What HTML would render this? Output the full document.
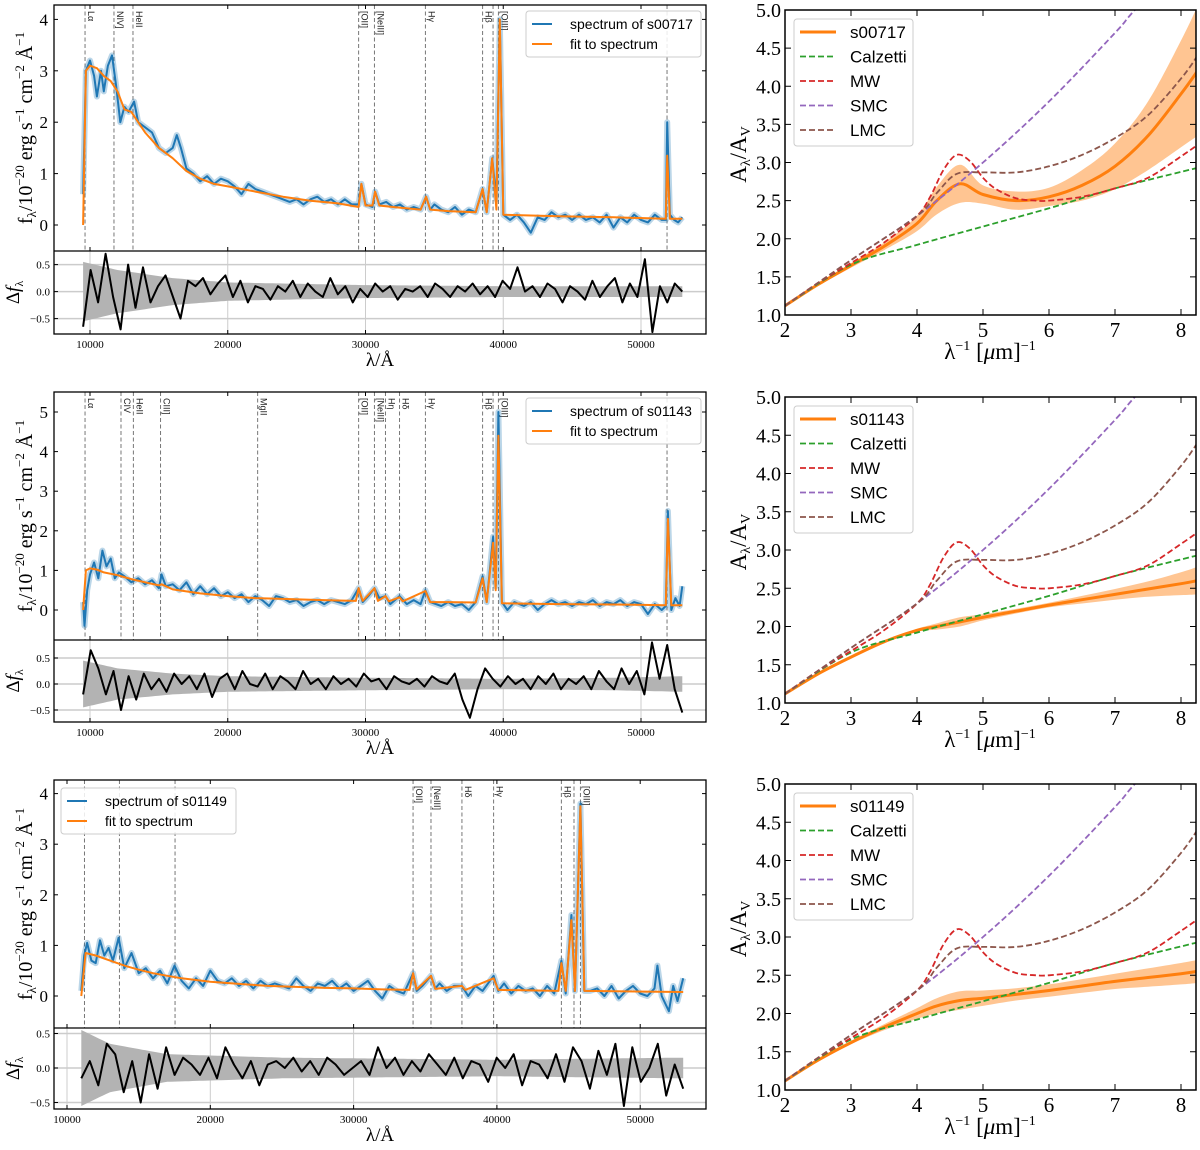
<!DOCTYPE html>
<html><head><meta charset="utf-8">
<style>
body{margin:0;background:#fff;width:1200px;height:1150px;overflow:hidden}
svg{display:block}
text{font-family:"Liberation Serif","DejaVu Serif",serif}
.sans{font-family:"Liberation Sans","DejaVu Sans",sans-serif}
</style></head>
<body>
<svg id="fig" width="1200" height="1150" viewBox="0 0 1200 1150" xmlns="http://www.w3.org/2000/svg"></svg>
<script>
// ---------- Panel 1 data (s00717) ----------
const spec1Lam=[9500,9700,10000,10300,10500,10800,11000,11300,11600,11900,12200,12500,12800,13200,13500,14000,14500,15000,15500,16000,16300,16600,17000,17500,18000,18500,19000,19500,20000,20500,21000,21500,22000,22500,23000,23500,24000,24500,25000,25500,26000,26500,27000,27500,28000,28500,29000,29500,29700,30000,30500,30700,31000,31500,32000,32500,33000,33500,34000,34400,34700,35000,35500,36000,36500,37000,37500,38000,38500,38800,39200,39500,39750,40000,40500,41000,41500,42000,42500,43000,43500,44000,44500,45000,45500,46000,46500,47000,47500,48000,48500,49000,49500,50000,50500,51000,51500,51800,51900,52100,52400,52700,53000];
const spec1Flux=[0.6,3.0,3.2,2.9,2.5,3.0,2.6,3.1,3.3,2.7,2.0,2.3,2.2,2.4,2.0,1.9,1.8,1.5,1.4,1.5,1.75,1.5,1.1,1.0,0.85,0.95,0.8,0.9,0.85,0.75,0.6,0.8,0.7,0.65,0.6,0.55,0.5,0.45,0.5,0.4,0.5,0.55,0.45,0.5,0.4,0.5,0.4,0.4,0.8,0.4,0.35,0.65,0.4,0.45,0.35,0.4,0.3,0.35,0.3,0.55,0.3,0.4,0.3,0.25,0.35,0.2,0.3,0.25,0.7,0.25,1.3,0.5,4.0,0.2,0.1,0.2,0.05,-0.15,0.15,0.1,0.25,0.15,0.2,0.1,0.2,0.1,0.15,0.05,0.2,-0.05,0.15,0.05,0.2,0.1,0.05,0.2,0.1,0.1,2.0,0.2,0.1,0.05,0.15];
const fit1Lam=[9500,9700,10000,10500,11000,11500,12000,12500,13000,13500,14000,15000,16000,17000,18000,19000,20000,22000,24000,26000,28000,29500,29700,30000,30500,30700,31000,32000,34000,34400,34700,36000,38000,38500,38800,39200,39500,39750,40000,44000,48000,51800,51900,52100,53000];
const fit1Flux=[0,3.0,3.1,3.05,2.9,2.8,2.6,2.25,2.2,2.0,1.8,1.5,1.3,1.05,0.9,0.8,0.75,0.65,0.55,0.47,0.42,0.35,0.8,0.38,0.38,0.65,0.38,0.35,0.3,0.55,0.3,0.27,0.25,0.7,0.25,1.3,0.3,4.0,0.2,0.17,0.15,0.12,1.35,0.12,0.12];
const res1=[-0.65,0.4,-0.2,0.7,-0.1,-0.7,0.5,-0.3,0.45,-0.2,0.1,0.3,-0.1,-0.5,0.2,0.1,0.25,-0.05,0.15,0.3,-0.1,0.2,-0.2,0.1,0.05,-0.15,0.1,0.0,0.2,-0.1,0.15,0.0,-0.1,0.25,-0.05,0.1,-0.2,0.05,-0.1,0.15,0.0,0.1,-0.15,0.05,0.0,0.1,-0.1,0.15,0.05,-0.1,0.1,0.0,0.15,-0.05,0.1,-0.1,0.2,0.05,0.45,0.0,0.1,-0.1,0.15,0.05,-0.2,0.1,0.0,-0.15,0.2,-0.1,0.1,0.25,-0.2,0.15,-0.1,0.6,-0.75,0.1,-0.2,0.15,0.0];
const band1Lam=[9500,12000,16000,20000,30000,40000,53000];
const band1Sig=[0.55,0.4,0.25,0.17,0.12,0.1,0.1];
const lines1Lam=[9640,11740,13120,29500,30650,34350,38500,39260,39650,51890];
const lines1Lab=["Lα","NIV]","HeII","[OII]","[NeIII]","Hγ","Hβ","","[OIII]",""];

// ---------- Panel 2 data (s01143) ----------
const spec2Lam=[9500,9600,9800,10000,10300,10600,10900,11200,11500,11800,12100,12500,13000,13500,14000,14500,15000,15200,15500,16000,16500,17000,17500,18000,18500,19000,19500,20000,20500,21000,21500,22000,22500,23000,23500,24000,24500,25000,25500,26000,26500,27000,27500,28000,28500,29000,29500,29800,30200,30650,31000,31450,31800,32470,33000,33500,34000,34350,34700,35500,36000,36500,37000,37500,38000,38500,38800,39260,39450,39650,39900,40300,40800,41500,42000,42500,43000,43500,44000,44500,45000,45500,46000,46500,47000,47500,48000,48500,49000,49500,50000,50500,51000,51500,51800,51950,52200,52500,52800,53000];
const spec2Flux=[0.2,-0.4,0.5,0.9,1.2,0.8,1.5,1.1,1.3,0.8,0.95,0.85,0.7,0.8,0.65,0.75,0.55,0.9,0.6,0.65,0.5,0.7,0.4,0.6,0.4,0.55,0.35,0.45,0.3,0.4,0.2,0.35,0.25,0.1,0.35,0.3,0.2,0.25,0.1,0.2,0.25,0.15,0.25,0.2,0.15,0.25,0.55,0.2,0.35,0.55,0.3,0.35,0.15,0.35,0.15,0.25,0.15,0.5,0.2,0.1,0.2,0.1,0.15,0.0,0.2,0.85,0.2,1.85,0.6,5.0,0.2,0.0,0.2,0.1,0.2,0.0,0.15,0.25,0.15,0.2,0.1,0.2,0.15,0.25,0.1,0.2,0.15,0.25,0.1,0.2,0.15,-0.1,0.15,0.0,0.1,2.5,0.0,0.3,0.1,0.6];
const fit2Lam=[9500,9700,10000,10500,11000,12000,13000,14000,15000,15200,16000,17000,18000,20000,22000,24000,26000,28000,29300,29500,29800,30650,30900,31450,31700,32470,32700,34350,34700,36000,38000,38500,38800,39260,39450,39650,39900,44000,48000,51800,51950,52200,53000];
const fit2Flux=[0,1.0,1.05,1.02,0.95,0.88,0.78,0.7,0.62,0.65,0.52,0.47,0.42,0.35,0.3,0.28,0.26,0.24,0.23,0.55,0.23,0.55,0.23,0.35,0.22,0.32,0.22,0.48,0.2,0.2,0.19,0.8,0.2,1.7,0.5,4.4,0.17,0.15,0.14,0.12,2.3,0.12,0.12];
const res2=[-0.2,0.65,0.3,-0.2,0.25,-0.5,0.15,-0.3,0.2,-0.1,0.1,-0.15,0.2,0.0,0.15,-0.1,0.2,-0.25,0.1,0.2,-0.1,0.25,0.0,-0.05,0.2,-0.1,0.15,0.05,-0.1,0.25,0.0,0.1,-0.1,0.15,0.0,0.1,-0.05,0.2,0.05,0.1,-0.1,0.15,0.05,0.0,0.1,-0.05,0.15,0.05,0.0,0.2,-0.3,-0.65,-0.1,0.3,0.1,-0.05,0.15,0.0,0.1,-0.1,0.15,0.0,0.2,-0.1,0.1,0.0,0.15,-0.1,0.25,0.05,-0.1,0.3,0.0,0.25,-0.2,0.8,0.1,0.75,-0.1,-0.55];
const band2Lam=[9500,12000,16000,20000,30000,40000,48000,53000];
const band2Sig=[0.45,0.3,0.2,0.15,0.12,0.1,0.12,0.15];
const lines2Lam=[9640,12250,13150,15120,22170,29500,30650,31450,32470,34350,38500,39260,39650,51890];
const lines2Lab=["Lα","CIV","HeII","CIII]","MgII","[OII]","[NeIII]","Hη","Hδ","Hγ","Hβ","","[OIII]",""];

// ---------- Panel 3 data (s01149) ----------
const spec3Lam=[11000,11200,11400,11700,12000,12300,12600,12900,13200,13600,14000,14500,15000,15500,16000,16500,17000,17500,18000,18500,19000,19500,20000,20500,21000,21500,22000,22500,23000,23500,24000,24500,25000,25500,26000,26500,27000,27500,28000,28500,29000,29500,30000,30500,31000,31500,32000,32500,33000,33500,34150,34400,34800,35400,35700,36000,36500,37000,37560,38000,38500,39000,39770,40100,40500,41000,41500,42000,42500,43000,43500,44000,44500,44800,45200,45450,45830,46100,46500,47000,47500,48000,48500,49000,49500,50000,50500,51000,51200,51500,52000,52300,52600,53000];
const spec3Flux=[0.1,0.8,1.05,0.7,0.65,1.1,0.8,0.95,0.7,1.15,0.55,0.85,0.45,0.55,0.35,0.5,0.25,0.6,0.3,0.15,0.35,0.2,0.5,0.3,0.25,0.35,0.2,0.3,0.15,0.3,0.2,0.25,0.2,0.15,0.35,0.2,0.1,0.25,0.2,0.3,0.15,0.25,0.1,0.2,0.3,0.1,-0.05,0.2,0.1,0.05,0.45,0.1,0.2,0.4,0.15,0.25,0.1,0.2,0.2,0.0,0.2,0.1,0.4,0.1,0.25,0.05,0.2,0.1,0.15,0.0,0.2,0.05,0.7,0.05,1.6,0.1,3.8,0.1,0.1,0.15,0.0,0.2,-0.05,0.1,0.2,0.05,0.0,0.15,0.6,0.0,-0.3,0.2,-0.1,0.35];
const fit3Lam=[11000,11300,12000,13000,14000,15000,16000,17000,18000,20000,22000,24000,26000,28000,30000,32000,33900,34150,34400,35400,35700,37560,37800,39770,40100,44300,44500,44800,45200,45450,45830,46100,53000];
const fit3Flux=[0,0.85,0.8,0.7,0.6,0.52,0.45,0.4,0.35,0.28,0.24,0.2,0.18,0.16,0.15,0.13,0.12,0.45,0.13,0.4,0.14,0.2,0.12,0.35,0.12,0.1,0.65,0.1,1.5,0.1,3.75,0.1,0.08];
const res3=[-0.15,0.1,-0.25,0.35,0.2,-0.35,0.1,-0.5,0.2,-0.3,0.3,-0.1,0.15,0.05,-0.1,0.15,-0.15,0.3,0.05,-0.15,0.1,-0.25,0.05,0.1,0.0,0.15,-0.05,0.1,-0.1,0.15,0.05,-0.1,0.0,0.1,-0.1,0.3,0.0,0.15,-0.1,0.1,-0.05,0.2,0.05,-0.1,0.15,-0.15,0.1,0.05,-0.2,0.15,0.0,0.2,-0.25,0.1,0.05,-0.15,0.2,-0.2,0.3,0.1,-0.3,0.25,-0.1,0.35,-0.55,0.3,-0.2,0.0,0.35,-0.4,0.05,-0.3];
const band3Lam=[11000,13000,17000,25000,40000,53000];
const band3Sig=[0.55,0.35,0.2,0.15,0.12,0.15];
const lines3Lam=[11220,13660,17540,34150,35400,37560,39770,44500,45380,45830];
const lines3Lab=["","","","[OII]","[NeIII]","Hδ","Hγ","Hβ","","[OIII]"];

// ---------- Extinction curves ----------
const calzX=[2,3,4,5,6,7,8.25];
const calzY=[1.12,1.66,1.92,2.16,2.40,2.66,2.93];
const mwX=[2,2.5,3,3.5,4,4.2,4.4,4.6,4.8,5.0,5.2,5.5,5.8,6,6.5,7,7.5,8,8.25];
const mwY=[1.12,1.42,1.68,1.95,2.3,2.55,2.9,3.1,3.02,2.8,2.65,2.53,2.5,2.5,2.55,2.66,2.8,3.08,3.23];
const smcX=[2,3,4,5,6,7,7.3,8.25];
const smcY=[1.12,1.72,2.3,3.0,3.8,4.7,5.0,5.9];
const lmcX=[2,3,4,4.3,4.6,5,5.5,6,6.5,7,7.5,8,8.25];
const lmcY=[1.12,1.72,2.3,2.6,2.85,2.87,2.87,2.95,3.1,3.32,3.62,4.1,4.4];
const fitExtX=[2,2.5,3,3.5,4,4.3,4.65,5,5.5,6,6.5,7,7.5,8,8.25];
const fitExt1=[1.12,1.4,1.65,1.9,2.2,2.5,2.72,2.58,2.5,2.55,2.7,2.95,3.35,3.9,4.2];
const sig1=[0.01,0.02,0.03,0.05,0.1,0.18,0.25,0.12,0.12,0.12,0.2,0.3,0.45,0.7,0.85];
const fitExt2=[1.12,1.38,1.6,1.8,1.95,2.0,2.06,2.12,2.2,2.28,2.35,2.42,2.49,2.56,2.6];
const sig2=[0.01,0.01,0.01,0.01,0.02,0.04,0.06,0.04,0.03,0.03,0.05,0.07,0.1,0.15,0.18];
const fitExt3=[1.12,1.39,1.62,1.82,2.0,2.1,2.17,2.2,2.25,2.3,2.36,2.42,2.47,2.52,2.55];
const sig3=[0.01,0.01,0.02,0.04,0.07,0.1,0.12,0.1,0.08,0.08,0.09,0.1,0.12,0.14,0.15];

const NS="http://www.w3.org/2000/svg";
const fig=document.getElementById('fig');
function el(tag,attrs,parent){const e=document.createElementNS(NS,tag);for(const k in attrs)e.setAttribute(k,attrs[k]);(parent||fig).appendChild(e);return e;}
function pathD(xs,ys,sx,sy){return xs.map((x,i)=>(i?'L':'M')+sx(x).toFixed(1)+','+sy(ys[i]).toFixed(1)).join('');}
function smoothD(xs,ys,sx,sy,start){
  const p=xs.map((x,i)=>[sx(x),sy(ys[i])]);
  let d=(start||'M')+p[0][0].toFixed(1)+','+p[0][1].toFixed(1);
  for(let i=0;i<p.length-1;i++){
    const p0=p[i-1]||p[i],p1=p[i],p2=p[i+1],p3=p[i+2]||p[i+1];
    const c1=[p1[0]+(p2[0]-p0[0])/6,p1[1]+(p2[1]-p0[1])/6];
    const c2=[p2[0]-(p3[0]-p1[0])/6,p2[1]-(p3[1]-p1[1])/6];
    d+='C'+c1[0].toFixed(1)+','+c1[1].toFixed(1)+' '+c2[0].toFixed(1)+','+c2[1].toFixed(1)+' '+p2[0].toFixed(1)+','+p2[1].toFixed(1);
  }
  return d;
}
function interp(xs,ys,x){if(x<=xs[0])return ys[0];for(let i=1;i<xs.length;i++){if(x<=xs[i]){const t=(x-xs[i-1])/(xs[i]-xs[i-1]);return ys[i-1]+t*(ys[i]-ys[i-1]);}}return ys[ys.length-1];}

let clipId=0;
function makeClip(x,y,w,h){const id='c'+(clipId++);const cp=el('clipPath',{id:id});el('rect',{x:x,y:y,width:w,height:h},cp);return id;}

function spectrumPanel(o){
  const L=54,R=706;
  const sx=v=>o.xPx0+(v-10000)*o.xScale;
  const sy=v=>o.y0+-v*o.yScale;
  const ry=v=>o.r0-v*o.rScale;
  const g=el('g',{});
  
  
  const cidR=makeClip(L,o.mid,R-L,o.bot-o.mid);
  const gr=el('g',{'clip-path':'url(#'+cidR+')'},g);
  
  
  [10000,20000,30000,40000,50000].forEach(t=>el('line',{x1:sx(t),x2:sx(t),y1:o.mid,y2:o.bot,stroke:'#ccc','stroke-width':1},gr));
  [-0.5,0,0.5].forEach(t=>el('line',{x1:L,x2:R,y1:ry(t),y2:ry(t),stroke:'#ccc','stroke-width':1.5},gr));
  const bx=[],bu=[],bl=[];
  for(let l=o.bandLam[0];l<=53000;l+=250){bx.push(l);const s=interp(o.bandLam,o.bandSig,l);bu.push(s);bl.push(-s);}
  const bandD=pathD(bx,bu,sx,ry)+pathD(bx.slice().reverse(),bl.slice().reverse(),sx,ry).replace('M','L')+'Z';
  const band=el('path',{d:bandD,fill:'#b3b3b3',stroke:'none'},gr);
  
  
  const rx=o.res.map((v,i)=>o.resStart+i*(53000-o.resStart)/(o.res.length-1));
  const rp=el('path',{d:pathD(rx,o.res,sx,ry),fill:'none',stroke:'#000','stroke-width':2,'stroke-linejoin':'round'},gr);
  
  
  const cidM=makeClip(L,o.top,R-L,o.mid-o.top);
  const gm=el('g',{'clip-path':'url(#'+cidM+')'},g);
  o.linesLam.forEach((l,i)=>{
    const ln=el('line',{x1:sx(l),x2:sx(l),y1:o.top,y2:o.mid,stroke:'#777','stroke-width':1,'stroke-dasharray':'4,2.5'},gm);
    
    
    if(o.linesLab[i]){
      const t=el('text',{x:0,y:0,'font-size':9,'class':'sans',fill:'#222',transform:'translate('+(sx(l)+3)+','+(o.top+6)+') rotate(90)'},gm);
      t.textContent=o.linesLab[i];
      
      
    }
  });
  const err=el('path',{d:pathD(o.specLam,o.specFlux,sx,sy),fill:'none',stroke:'#1f77b4','stroke-opacity':0.3,'stroke-width':6,'stroke-linejoin':'round'},gm);
  
  
  const sp=el('path',{d:pathD(o.specLam,o.specFlux,sx,sy),fill:'none',stroke:'#1f77b4','stroke-width':2,'stroke-linejoin':'round'},gm);
  
  
  const fp=el('path',{d:pathD(o.fitLam,o.fitFlux,sx,sy),fill:'none',stroke:'#ff7f0e','stroke-width':2,'stroke-linejoin':'round'},gm);
  
  
  el('rect',{x:L,y:o.top,width:R-L,height:o.bot-o.top,fill:'none',stroke:'#000','stroke-width':1.3},g);
  el('line',{x1:L,x2:R,y1:o.mid,y2:o.mid,stroke:'#000','stroke-width':1.3},g);
  o.yTicks.forEach(t=>{const y=sy(t);el('line',{x1:L,x2:L+4,y1:y,y2:y,stroke:'#000'},g);el('line',{x1:R,x2:R-4,y1:y,y2:y,stroke:'#000'},g);
    const tx=el('text',{x:L-6,y:y+6,'font-size':17,'text-anchor':'end'},g);tx.textContent=t;
    });
  [-0.5,0,0.5].forEach(t=>{const y=ry(t);el('line',{x1:L,x2:L+4,y1:y,y2:y,stroke:'#000'},g);
    const tx=el('text',{x:L-4,y:y+4,'font-size':11,'text-anchor':'end'},g);tx.textContent=(t<0?'−':'')+Math.abs(t).toFixed(1);
    });
  [10000,20000,30000,40000,50000].forEach(t=>{const x=sx(t);el('line',{x1:x,x2:x,y1:o.bot,y2:o.bot-4,stroke:'#000'},g);el('line',{x1:x,x2:x,y1:o.top,y2:o.top+4,stroke:'#000'},g);el('line',{x1:x,x2:x,y1:o.mid,y2:o.mid-4,stroke:'#000'},g);
    const tx=el('text',{x:x,y:o.bot+14,'font-size':11,'text-anchor':'middle'},g);tx.textContent=t;
    });
  const yl=el('text',{x:0,y:0,'font-size':20,'text-anchor':'middle',transform:'translate(32,'+((o.top+o.mid)/2)+') rotate(-90)'},g);
  yl.innerHTML='f<tspan font-size="13" dy="4">λ</tspan><tspan dy="-4">/10</tspan><tspan font-size="13" dy="-8">−20</tspan><tspan dy="8"> erg s</tspan><tspan font-size="13" dy="-8">−1</tspan><tspan dy="8"> cm</tspan><tspan font-size="13" dy="-8">−2</tspan><tspan dy="8"> Å</tspan><tspan font-size="13" dy="-8">−1</tspan>';
  
  const rl=el('text',{x:0,y:0,'font-size':19,'text-anchor':'middle',transform:'translate(19,'+((o.mid+o.bot)/2)+') rotate(-90)'},g);
  rl.innerHTML='Δ<tspan font-style="italic">f</tspan><tspan font-size="12" dy="4">λ</tspan>';
  
  const xl=el('text',{x:380,y:o.bot+32,'font-size':19,'text-anchor':'middle'},g);
  xl.textContent='λ/Å';
  
  const lg=el('g',{},g);
  
  el('rect',{x:o.legX,y:o.legY,width:175,height:46,rx:3,fill:'#fff','fill-opacity':0.85,stroke:'#ccc'},lg);
  el('line',{x1:o.legX+6,x2:o.legX+26,y1:o.legY+13,y2:o.legY+13,stroke:'#1f77b4','stroke-width':2},lg);
  el('line',{x1:o.legX+6,x2:o.legX+26,y1:o.legY+33,y2:o.legY+33,stroke:'#ff7f0e','stroke-width':2},lg);
  const t1=el('text',{x:o.legX+44,y:o.legY+18,'font-size':14,'class':'sans'},lg);t1.textContent='spectrum of '+o.name;
  
  const t2=el('text',{x:o.legX+44,y:o.legY+38,'font-size':14,'class':'sans'},lg);t2.textContent='fit to spectrum';
  
}

function extPanel(o){
  const L=785,R=1196;
  const sx=v=>L+(v-2)*66;
  const sy=v=>o.bot-(v-1)*(o.bot-o.top)/4;
  const g=el('g',{});
  
  
  const cid=makeClip(L,o.top,R-L,o.bot-o.top);
  const gc=el('g',{'clip-path':'url(#'+cid+')'},g);
  const up=o.fit.map((v,i)=>v+o.sig[i]),lo=o.fit.map((v,i)=>v-o.sig[i]);
  const bd=smoothD(fitExtX,up,sx,sy)+smoothD(fitExtX.slice().reverse(),lo.slice().reverse(),sx,sy,'L')+'Z';
  const b=el('path',{d:bd,fill:'#ff7f0e','fill-opacity':0.45,stroke:'none'},gc);
  
  const f=el('path',{d:smoothD(fitExtX,o.fit,sx,sy),fill:'none',stroke:'#ff7f0e','stroke-width':3},gc);
  
  const curves=[[calzX,calzY,'#2ca02c','calzetti-curve'],[mwX,mwY,'#d62728','mw-curve'],[smcX,smcY,'#9467bd','smc-curve'],[lmcX,lmcY,'#8c564b','lmc-curve']];
  curves.forEach(c=>{const p=el('path',{d:smoothD(c[0],c[1],sx,sy),fill:'none',stroke:c[2],'stroke-width':1.8,'stroke-dasharray':'6,3'},gc);
    });
  el('rect',{x:L,y:o.top,width:R-L,height:o.bot-o.top,fill:'none',stroke:'#000','stroke-width':1.5},g);
  [2,3,4,5,6,7,8].forEach(t=>{const x=sx(t);el('line',{x1:x,x2:x,y1:o.bot,y2:o.bot-6,stroke:'#000'},g);el('line',{x1:x,x2:x,y1:o.top,y2:o.top+6,stroke:'#000'},g);
    const tx=el('text',{x:x,y:o.bot+22,'font-size':21,'text-anchor':'middle'},g);tx.textContent=t;
    });
  [1,1.5,2,2.5,3,3.5,4,4.5,5].forEach(t=>{const y=sy(t);el('line',{x1:L,x2:L+6,y1:y,y2:y,stroke:'#000'},g);el('line',{x1:R,x2:R-6,y1:y,y2:y,stroke:'#000'},g);
    const tx=el('text',{x:L-4,y:y+7,'font-size':20,'text-anchor':'end'},g);tx.textContent=t.toFixed(1);
    });
  const yl=el('text',{x:0,y:0,'font-size':23,'text-anchor':'middle',transform:'translate(746,'+((o.top+o.bot)/2-8)+') rotate(-90)'},g);
  yl.innerHTML='A<tspan font-size="14" dy="4">λ</tspan><tspan dy="-4">/A</tspan><tspan font-size="14" dy="4">V</tspan>';
  
  const xl=el('text',{x:990,y:o.bot+44,'font-size':23,'text-anchor':'middle'},g);
  xl.innerHTML='λ<tspan font-size="14" dy="-9">−1</tspan><tspan dy="9"> [</tspan><tspan font-style="italic">μ</tspan>m]<tspan font-size="14" dy="-9">−1</tspan>';
  
  const lg=el('g',{},g);
  
  const lx=794,ly=o.top+9;
  el('rect',{x:lx,y:ly,width:119,height:127,rx:3,fill:'#fff','fill-opacity':0.85,stroke:'#ccc'},lg);
  const ents=[[o.name,'#ff7f0e',3,''],['Calzetti','#2ca02c',1.8,'6,3'],['MW','#d62728',1.8,'6,3'],['SMC','#9467bd',1.8,'6,3'],['LMC','#8c564b',1.8,'6,3']];
  ents.forEach((e,i)=>{const y=ly+13+i*24.5;
    const a={x1:lx+6,x2:lx+42,y1:y,y2:y,stroke:e[1],'stroke-width':e[2]};if(e[3])a['stroke-dasharray']=e[3];el('line',a,lg);
    const t=el('text',{x:lx+56,y:y+6,'font-size':17,'class':'sans'},lg);t.textContent=e[0];
    });
}

spectrumPanel({name:'s00717',xPx0:90,xScale:0.013775,top:5,mid:251,bot:334,y0:225,yScale:51.4,r0:291.6,rScale:54,yTicks:[0,1,2,3,4],
  specLam:spec1Lam,specFlux:spec1Flux,fitLam:fit1Lam,fitFlux:fit1Flux,res:res1,resStart:9500,bandLam:band1Lam,bandSig:band1Sig,linesLam:lines1Lam,linesLab:lines1Lab,legX:526,legY:11});
spectrumPanel({name:'s01143',xPx0:90,xScale:0.013775,top:392,mid:640,bot:722,y0:610,yScale:39.6,r0:684,rScale:52,yTicks:[0,1,2,3,4,5],
  specLam:spec2Lam,specFlux:spec2Flux,fitLam:fit2Lam,fitFlux:fit2Flux,res:res2,resStart:9500,bandLam:band2Lam,bandSig:band2Sig,linesLam:lines2Lam,linesLab:lines2Lab,legX:526,legY:398});
spectrumPanel({name:'s01149',xPx0:67,xScale:0.01433,top:780,mid:1028,bot:1109,y0:996,yScale:50.6,r0:1068,rScale:69,yTicks:[0,1,2,3,4],
  specLam:spec3Lam,specFlux:spec3Flux,fitLam:fit3Lam,fitFlux:fit3Flux,res:res3,resStart:11000,bandLam:band3Lam,bandSig:band3Sig,linesLam:lines3Lam,linesLab:lines3Lab,legX:61,legY:788});

extPanel({name:'s00717',top:10,bot:315,fit:fitExt1,sig:sig1});
extPanel({name:'s01143',top:397,bot:703,fit:fitExt2,sig:sig2});
extPanel({name:'s01149',top:784,bot:1090,fit:fitExt3,sig:sig3});
</script>
</body></html>
